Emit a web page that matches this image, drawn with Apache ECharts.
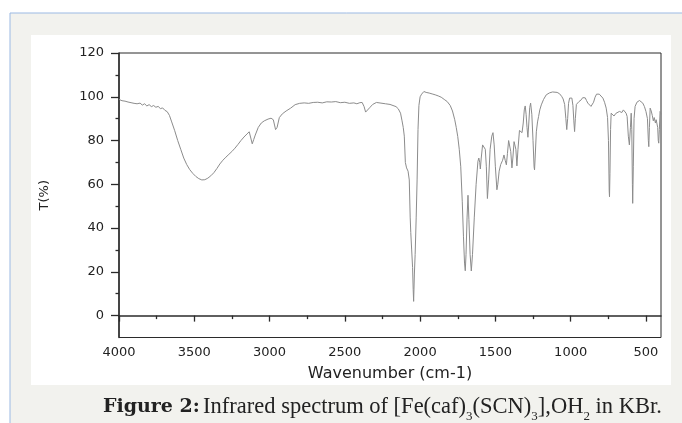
<!DOCTYPE html>
<html>
<head>
<meta charset="utf-8">
<script src="https://cdn.jsdelivr.net/npm/echarts@6/dist/echarts.min.js"></script>
<style>
html,body{margin:0;padding:0;background:#fff;}
#chart{width:682px;height:423px;}
</style>
</head>
<body>
<div id="chart"></div>
<script>
// Wavenumber (cm-1) and transmittance T(%)
const wavenumbers = [4000,3980,3960,3940,3920,3900,3880,3860,3845,3830,3815,3800,3785,3770,3755,3740,3725,3710,3695,3680,3665,3650,3630,3610,3590,3570,3550,3530,3510,3490,3470,3450,3430,3410,3390,3370,3350,3330,3310,3290,3270,3250,3230,3210,3190,3170,3150,3135,3125,3115,3105,3095,3075,3055,3035,3010,2990,2975,2960,2950,2935,2915,2890,2860,2830,2800,2770,2740,2710,2680,2650,2620,2590,2560,2530,2500,2470,2440,2420,2400,2385,2372,2362,2350,2335,2315,2290,2260,2230,2200,2180,2160,2145,2130,2120,2112,2105,2098,2090,2080,2072,2066,2062,2056,2050,2046,2043,2038,2033,2026,2020,2014,2008,2000,1990,1975,1960,1940,1920,1900,1880,1860,1840,1820,1800,1785,1770,1760,1750,1740,1730,1720,1712,1705,1700,1695,1688,1682,1676,1668,1660,1652,1640,1628,1616,1610,1604,1600,1594,1585,1575,1567,1560,1553,1545,1535,1524,1516,1508,1500,1490,1484,1475,1465,1460,1452,1443,1435,1427,1420,1412,1405,1398,1390,1384,1376,1370,1364,1357,1350,1340,1333,1323,1315,1308,1302,1296,1290,1284,1278,1272,1266,1258,1250,1243,1240,1236,1228,1220,1213,1205,1195,1180,1162,1140,1120,1107,1090,1074,1060,1050,1040,1032,1026,1020,1014,1007,1000,992,985,979,974,969,962,955,945,930,920,912,903,895,886,875,865,857,848,838,828,819,810,800,786,775,764,755,749,744,742,739,735,731,722,712,700,690,676,660,650,643,632,625,617,610,603,598,594,590,588,584,579,572,560,550,543,532,521,510,500,490,484,481,477,472,465,458,451,445,437,432,428,422,418,415,411,406,400];
const transmittance = [98.8,98.2,98.0,97.6,97.3,97.0,96.8,97.1,96.2,96.8,95.8,96.4,95.5,96.0,95.2,95.6,94.6,94.9,93.8,93.2,91.5,88.5,84.5,80.0,76.0,72.0,69.0,66.7,65.0,63.6,62.6,62.0,62.1,62.8,63.9,65.3,67.2,69.3,71.0,72.4,73.7,75.0,76.5,78.2,80.0,81.6,83.0,84.0,83.2,78.5,80.5,82.5,86.0,88.0,89.0,89.8,90.2,89.5,85.0,86.0,90.5,92.2,93.5,94.8,96.4,97.0,97.2,97.0,97.4,97.5,97.2,97.7,97.6,97.8,97.3,97.5,97.0,97.2,96.8,97.3,97.4,95.5,93.0,93.6,95.0,96.5,97.4,97.1,96.8,96.5,96.0,95.5,94.5,92.5,89.0,86.0,82.0,70.0,67.5,66.0,62.0,45.0,38.0,30.0,22.0,12.0,6.5,19.0,28.0,45.0,62.0,85.0,96.0,100.0,101.2,102.4,102.0,101.7,101.3,100.9,100.4,99.8,98.8,97.8,96.0,93.5,89.5,86.0,81.8,76.0,68.0,52.0,36.0,24.0,20.5,28.0,45.0,55.0,44.0,28.0,20.4,28.0,45.0,60.0,70.5,72.0,70.0,67.0,72.0,78.0,77.5,76.0,68.0,53.5,62.0,76.0,82.0,83.6,78.0,68.0,57.5,60.0,66.0,69.0,68.5,71.0,73.4,71.0,68.9,74.0,80.0,79.5,75.0,67.5,72.0,79.5,80.0,76.0,68.4,76.0,84.6,84.2,83.6,88.0,94.0,95.8,92.0,86.0,81.5,88.0,95.0,97.1,92.0,80.0,68.0,66.6,72.0,84.0,88.5,91.0,94.0,96.3,98.8,100.9,101.8,102.2,102.4,102.0,101.4,100.2,99.0,96.5,90.0,85.0,90.0,97.0,99.4,99.8,99.4,96.0,89.0,84.1,90.0,96.5,97.3,97.8,98.6,99.6,100.1,99.5,98.3,97.1,96.3,95.6,95.6,97.5,99.8,101.2,101.7,101.2,100.3,99.4,97.5,94.8,90.5,80.0,57.0,54.3,65.0,85.0,92.5,92.0,91.2,92.4,92.8,93.3,92.8,94.0,93.6,92.5,91.0,82.0,78.0,86.0,92.5,85.0,60.0,51.3,68.0,90.0,95.6,97.5,98.4,98.3,97.5,97.1,95.5,93.3,90.0,80.0,77.2,86.0,94.8,93.5,91.5,89.0,90.5,88.0,89.5,90.2,86.0,80.0,78.8,85.0,93.3,92.0];

const xMajorTicks = [4000,3500,3000,2500,2000,1500,1000,500];
const xMinorTicks = [3750,3250,2750,2250,1750,1250,750];
const yMajorTicks = [0,20,40,60,80,100,120];
const yMinorTicks = [10,30,50,70,90,110];

const xName = 'Wavenumber (cm-1)';
const yName = 'T(%)';

const chart = echarts.init(document.getElementById('chart'), null, {renderer:'canvas'});
const pts = wavenumbers.map((w,i)=>[w, transmittance[i]]);
const axisColor = '#2b2b2b';
const labelFont = {fontFamily:'DejaVu Sans', fontSize:13, color:'#222', formatter:(v)=>String(v)};

chart.setOption({
  animation:false,
  backgroundColor:'#ffffff',
  graphic:[
    {type:'rect', z:-10, shape:{x:10, y:13, width:700, height:420}, style:{fill:'#f2f2ee', stroke:'#9bb9e3', lineWidth:1}},
    {type:'rect', z:-9, shape:{x:31, y:35, width:640, height:350}, style:{fill:'#ffffff'}},
    {type:'text', z:10, left:103, top:396, style:{
      text:'{b|Figure 2:} {n|Infrared spectrum of [Fe(caf)}{s|3}{n|(SCN)}{s|3}{n|],OH}{s|2}{n| in KBr.}',
      rich:{
        b:{fontFamily:'DejaVu Serif', fontWeight:'bold', fontSize:19, fill:'#222', lineHeight:26, verticalAlign:'top', padding:[2,0,0,0]},
        n:{fontFamily:'Liberation Serif', fontSize:22.5, fill:'#222', lineHeight:26, verticalAlign:'top'},
        s:{fontFamily:'Liberation Serif', fontSize:13, fill:'#222', lineHeight:13, verticalAlign:'top', padding:[14,0,0,0]}
      }
    }}
  ],
  grid:{left:119, top:53, width:542, height:284.5, show:true, borderColor:axisColor, borderWidth:1, backgroundColor:'transparent'},
  xAxis:[
    {type:'value', inverse:true, min:400, max:4000, position:'bottom',
     name:xName, nameLocation:'middle', nameGap:28,
     nameTextStyle:{fontFamily:'DejaVu Sans', fontSize:16, color:'#222'},
     axisLine:{show:true, lineStyle:{color:axisColor, width:1.5}},
     axisTick:{show:true, length:6, customValues:xMajorTicks, lineStyle:{color:axisColor, width:1.3}},
     axisLabel:{show:true, margin:9, customValues:xMajorTicks, ...labelFont},
     splitLine:{show:false}},
    {type:'value', inverse:true, min:400, max:4000, position:'bottom', gridIndex:0,
     axisLine:{show:false},
     axisTick:{show:true, length:3.5, customValues:xMinorTicks, lineStyle:{color:axisColor, width:1.3}},
     axisLabel:{show:false},
     splitLine:{show:false}}
  ],
  yAxis:[
    {type:'value', min:-10, max:120, position:'left',
     name:yName, nameLocation:'middle', nameGap:68,
     nameTextStyle:{fontFamily:'DejaVu Sans', fontSize:13, color:'#222'},
     axisLine:{show:true, lineStyle:{color:axisColor, width:1.5}},
     axisTick:{show:true, length:8, customValues:yMajorTicks, lineStyle:{color:axisColor, width:1.3}},
     axisLabel:{show:true, margin:15, customValues:yMajorTicks, ...labelFont},
     splitLine:{show:false}},
    {type:'value', min:-10, max:120, position:'left', gridIndex:0,
     axisLine:{show:false},
     axisTick:{show:true, length:3.5, customValues:yMinorTicks, lineStyle:{color:axisColor, width:1.3}},
     axisLabel:{show:false},
     splitLine:{show:false}}
  ],
  series:[{
    type:'line', data:pts, xAxisIndex:0, yAxisIndex:0,
    showSymbol:false, smooth:false,
    lineStyle:{color:'#8c8c8c', width:1},
    z:3
  }]
});
</script>
</body>
</html>
